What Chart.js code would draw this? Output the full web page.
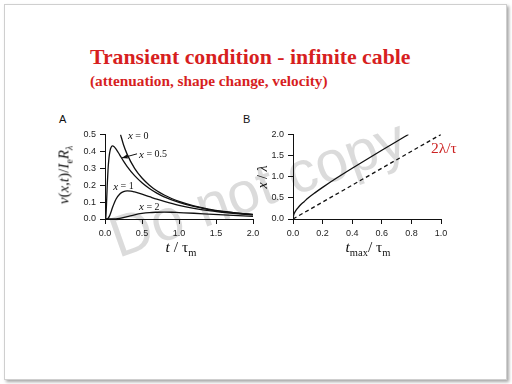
<!DOCTYPE html>
<html><head><meta charset="utf-8">
<script src="https://cdn.jsdelivr.net/npm/chart.js@4.4.1/dist/chart.umd.min.js"></script>
<style>
html,body{margin:0;padding:0;background:#fff;}
#page{position:relative;width:512px;height:384px;overflow:hidden;background:#fff;}
#frame{position:absolute;left:4px;top:4px;width:501px;height:374px;border:1px solid #cfcfcf;box-shadow:2px 2px 3px rgba(0,0,0,0.35);background:#fff;}
.t{position:absolute;white-space:nowrap;}
canvas{position:absolute;}
.serif{font-family:"Liberation Serif","DejaVu Serif",serif;}
.sans{font-family:"Liberation Sans",Arial,sans-serif;}
</style></head>
<body><div id="page">
<div id="frame"></div>
<div class="t sans" style="left:118px;top:209px;font-size:58px;line-height:58px;color:rgba(170,170,170,0.42);transform-origin:0 48px;transform:rotate(-19.5deg);">Do not copy</div>
<div class="t serif" style="left:90px;top:45px;font-size:21.8px;font-weight:bold;color:#d71f1f;">Transient condition - infinite cable</div>
<div class="t serif" style="left:90px;top:72px;font-size:15.3px;font-weight:bold;color:#d71f1f;">(attenuation, shape change, velocity)</div>
<div class="t sans" style="left:59px;top:113px;font-size:11px;color:#111;">A</div>
<div class="t sans" style="left:243px;top:113px;font-size:11px;color:#111;">B</div>
<canvas id="cA" width="200" height="114" style="left:65px;top:125px;"></canvas>
<canvas id="cB" width="200" height="114" style="left:252.7px;top:125px;"></canvas>
<div class="t serif" style="left:65px;top:175px;font-size:15px;color:#111;transform:translate(-50%,-50%) rotate(-90deg);"><i>v</i>(<i>x</i>,<i>t</i>)/<i>I</i><sub style="font-size:10px">e</sub><i>R</i><sub style="font-size:10px"><i>λ</i></sub></div>
<div class="t serif" style="left:263px;top:177px;font-size:14px;color:#111;transform:translate(-50%,-50%) rotate(-90deg);"><i>x</i> / <i>λ</i></div>
<div class="t serif" style="left:181px;top:248px;font-size:15.5px;color:#111;transform:translate(-50%,-50%);"><i>t</i> / τ<sub style="font-size:10.5px">m</sub></div>
<div class="t serif" style="left:368px;top:248px;font-size:15.5px;color:#111;transform:translate(-50%,-50%);"><i>t</i><sub style="font-size:10.5px">max</sub>/ τ<sub style="font-size:10.5px">m</sub></div>
<div class="t serif" style="left:431px;top:139px;font-size:15.5px;color:#cc2222;">2λ/τ</div>
</div>
<script>
// Panel A: v(x,t)/(Ie R_lambda) vs t/tau_m
const tX0  = [0.21,0.25,0.3,0.4,0.5,0.6,0.7,0.8,0.9,1.0,1.2,1.4,1.6,1.8,2.0];
const vX0  = [0.499,0.439,0.382,0.299,0.242,0.200,0.167,0.142,0.121,0.104,0.078,0.059,0.045,0.035,0.027];
const tX05 = [0,0.01,0.02,0.03,0.04,0.05,0.06,0.07,0.08,0.1,0.12,0.15,0.2,0.25,0.3,0.4,0.5,0.6,0.7,0.8,1.0,1.2,1.4,1.6,1.8,2.0];
const vX05 = [0,0.005,0.086,0.197,0.284,0.344,0.383,0.407,0.421,0.432,0.429,0.413,0.378,0.342,0.310,0.256,0.214,0.180,0.153,0.131,0.098,0.074,0.056,0.043,0.034,0.026];
const tX1  = [0,0.02,0.04,0.06,0.08,0.1,0.15,0.2,0.25,0.3,0.35,0.4,0.5,0.6,0.7,0.8,1.0,1.2,1.4,1.6,1.8,2.0];
const vX1  = [0,0,0.003,0.017,0.040,0.066,0.118,0.148,0.162,0.166,0.165,0.160,0.147,0.132,0.117,0.104,0.081,0.063,0.049,0.039,0.030,0.024];
const tX2  = [0,0.1,0.2,0.3,0.4,0.5,0.6,0.7,0.8,0.9,1.0,1.2,1.4,1.6,1.8,2.0];
const vX2  = [0,0,0.004,0.014,0.025,0.033,0.038,0.040,0.041,0.040,0.038,0.034,0.029,0.024,0.020,0.016];
const ticksA_x = [0,0.5,1.0,1.5,2.0];
const ticksA_y = [0,0.1,0.2,0.3,0.4,0.5];
const curveLabelsA = [
  {name:'x', val:'0',   t:0.31, v:0.49},
  {name:'x', val:'0.5', t:0.46, v:0.38},
  {name:'x', val:'1',   t:0.11, v:0.19},
  {name:'x', val:'2',   t:0.46, v:0.07}
];
const arrowA = {from:[0.46,0.385], to:[0.225,0.36]};
// Panel B: x/lambda vs t_max/tau_m
const tmaxB  = [0,0.005,0.01,0.02,0.035,0.05,0.075,0.1,0.15,0.2,0.3,0.4,0.5,0.6,0.7,0.78];
const xB     = [0,0.100,0.143,0.204,0.270,0.332,0.410,0.490,0.624,0.748,0.980,1.200,1.414,1.625,1.833,1.998];
const tDashB = [0,1.0];
const xDashB = [0,2.0];
const ticksB_x = [0,0.2,0.4,0.6,0.8,1.0];
const ticksB_y = [0,0.5,1.0,1.5,2.0];

function pts(xs,ys){return xs.map((x,i)=>({x:x,y:ys[i]}));}
const tickFont = {family:'"Liberation Sans", Arial, sans-serif', size:9};
function axis(min,max,vals,isY){
  return {
    type:'linear', min:min, max:max,
    afterBuildTicks: s => { s.ticks = vals.map(v=>({value:v})); },
    afterFit: s => { if(isY) s.width = 40; else s.height = 20; },
    ticks:{font:tickFont, color:'#222', padding:4, maxRotation:0, autoSkip:false,
      callback: v => v.toFixed(1)},
    grid:{drawOnChartArea:false, drawTicks:true, tickLength:5, color:'#111', lineWidth:1},
    border:{display:true, color:'#111', width:1}
  };
}
function lineDs(data, dash){
  return {data:data, showLine:true, borderColor:'#111', borderWidth:1.3, pointRadius:0,
    cubicInterpolationMode:'monotone', borderDash: dash||[], fill:false};
}
const labelPlugin = {
  id:'curveLabels',
  afterDatasetsDraw(chart){
    const ctx = chart.ctx, xs = chart.scales.x, ys = chart.scales.y;
    ctx.save();
    ctx.fillStyle = '#111'; ctx.strokeStyle = '#111';
    ctx.textBaseline = 'middle';
    curveLabelsA.forEach(l=>{
      let px = xs.getPixelForValue(l.t), py = ys.getPixelForValue(l.v);
      ctx.font = 'italic 11px "Liberation Serif", serif';
      ctx.fillText(l.name, px, py);
      px += ctx.measureText(l.name).width;
      ctx.font = '10px "Liberation Serif", serif';
      ctx.fillText(' = ' + l.val, px, py);
    });
    const fx = xs.getPixelForValue(arrowA.from[0]), fy = ys.getPixelForValue(arrowA.from[1]);
    const tx = xs.getPixelForValue(arrowA.to[0]), ty = ys.getPixelForValue(arrowA.to[1]);
    ctx.lineWidth = 1;
    ctx.beginPath(); ctx.moveTo(fx-2,fy); ctx.lineTo(tx,ty); ctx.stroke();
    const a = Math.atan2(ty-fy, tx-(fx-2));
    ctx.beginPath();
    ctx.moveTo(tx,ty);
    ctx.lineTo(tx-6*Math.cos(a)+2.2*Math.sin(a), ty-6*Math.sin(a)-2.2*Math.cos(a));
    ctx.lineTo(tx-6*Math.cos(a)-2.2*Math.sin(a), ty-6*Math.sin(a)+2.2*Math.cos(a));
    ctx.closePath(); ctx.fill();
    ctx.restore();
  }
};
const common = {responsive:false, animation:false, devicePixelRatio:1,
  plugins:{legend:{display:false}, tooltip:{enabled:false}}};
new Chart(document.getElementById('cA'), {
  type:'scatter',
  data:{datasets:[lineDs(pts(tX0,vX0)), lineDs(pts(tX05,vX05)), lineDs(pts(tX1,vX1)), lineDs(pts(tX2,vX2))]},
  options:Object.assign({}, common, {
    layout:{padding:{top:7, right:12, left:0, bottom:0}},
    scales:{x:axis(0,2,ticksA_x,false), y:axis(0,0.5,ticksA_y,true)}
  }),
  plugins:[labelPlugin]
});
new Chart(document.getElementById('cB'), {
  type:'scatter',
  data:{datasets:[lineDs(pts(tmaxB,xB)), lineDs(pts(tDashB,xDashB),[4,3])]},
  options:Object.assign({}, common, {
    layout:{padding:{top:7.3, right:12, left:0, bottom:0}},
    scales:{x:axis(0,1,ticksB_x,false), y:axis(0,2,ticksB_y,true)}
  })
});
</script>
</body></html>
